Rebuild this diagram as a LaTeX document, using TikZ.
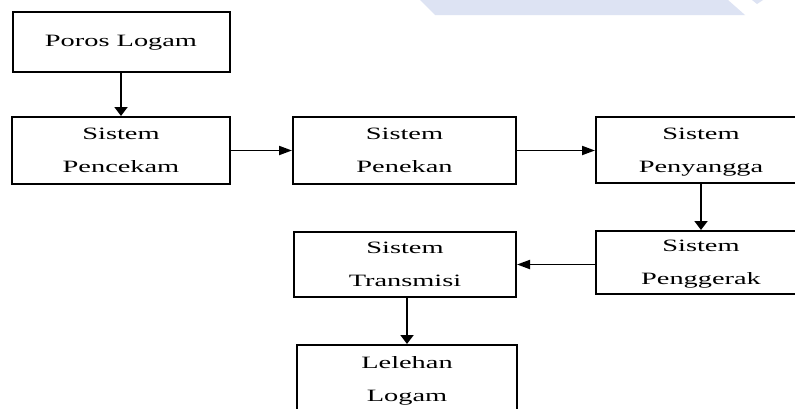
\documentclass[tikz,border=0pt]{standalone}
\usepackage{fontspec}
\setmainfont{Liberation Serif}
\newfontfamily\widefont[FakeStretch=1.64]{Liberation Serif}
\usetikzlibrary{arrows.meta}
\definecolor{wm}{RGB}{221,227,243}
\begin{document}
\begin{tikzpicture}[x=1pt,y=-1pt,
  box/.style={draw,line width=2pt,inner sep=0pt,align=center,
    font=\widefont\fontsize{17.3}{33}\selectfont},
  harr/.style={line width=1.9pt,-{Triangle[length=13pt,width=9pt]}},
  varr/.style={line width=1.9pt,-{Triangle[length=9pt,width=13pt]}}]
\clip (0,0) rectangle (795,408);
\fill[white] (0,0) rectangle (795,408);
% watermark fragment
\fill[wm] (420,0) -- (435,15) -- (745,15) -- (728,0) -- cycle;
\fill[wm] (752,0) -- (757,4) -- (763,0) -- cycle;
% boxes
\node[box,minimum width=217pt,minimum height=60pt] (poros) at (121,42.3) {\raisebox{2pt}{Poros Logam}};
\node[box,minimum width=218pt,minimum height=67pt] (pencekam) at (121,150.5) {Sistem\\Pencekam};
\node[box,minimum width=223pt,minimum height=67pt] (penekan) at (404.5,150.5) {Sistem\\Penekan};
\node[box,minimum width=210pt,minimum height=66pt] (penyangga) at (701,150) {Sistem\\\smash{Penyangga}};
\node[box,minimum width=210pt,minimum height=63pt] (penggerak) at (701,262.5) {Sistem\\\smash{Penggerak}};
\node[box,minimum width=222pt,minimum height=65pt] (transmisi) at (405,264.5) {Sistem\\Transmisi};
\node[box,minimum width=220pt,minimum height=67pt] (lelehan) at (407,378.5) {Lelehan\\\smash{Logam}};
% connectors
\draw[varr] (poros) -- (pencekam);
\draw[harr] (pencekam) -- (penekan);
\draw[harr] (penekan) -- (penyangga.west |- penekan);
\draw[varr] (penyangga) -- (penggerak);
\draw[harr] (penggerak.west |- transmisi.east) -- (transmisi);
\draw[varr] (transmisi.south -| lelehan) -- (lelehan);
\end{tikzpicture}
\end{document}
